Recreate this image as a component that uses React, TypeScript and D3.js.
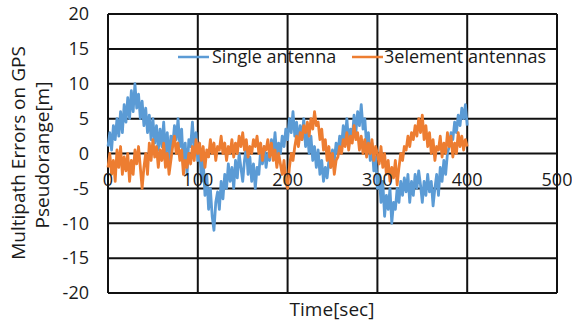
import React from "react";
import * as d3 from "d3";

// Sampling grid: one reading every 2 seconds, 0..400 s
const time = d3.range(0, 401, 2);

// Single antenna, multipath error [m]
const singleAntenna = [
  1, 3, 0.5, 4, 2, 5, 2.5, 6, 3, 7,
  4.5, 8, 5, 9, 6, 10, 6.5, 8.5, 5, 7.5,
  4, 6.5, 3, 5.5, 2, 5, 1.5, 4, 0.5, 3.5,
  1, 4.5, 0, 3, -1, 2.5, 1, 4, 2, 5,
  1, 3.5, -2, 1.5, -3, 2, 1, 4.5, 0.5, 3,
  -1, 1, -4, -1, -6, -3, -8, -5, -9, -11,
  -7, -5.5, -8, -4, -6.5, -3, -5, -1.5, -4, -2,
  -5, -1, -3.5, 0, -2, -4, -1, 1, -3, -0.5,
  -4, -1.5, -5, -2, -3, 0.5, -1.5, 1, -2, 0,
  -1, 2, 0, 3, -0.5, 1.5, 0, 2.5, 1, 3.5,
  2, 5, 3, 6, 2.5, 4.5, 1.5, 4, 2, 5,
  1, 3, 0, 2.5, -1, 1, -2, 0.5, -3, -1,
  -4, -2, -3.5, -1, -2, 0.5, -1, 1.5, 0, 2.5,
  1, 4, 2, 5, 1.5, 3.5, 2, 5.5, 3, 6,
  4, 7, 3.5, 5, 1, 3, -1, 1.5, -2.5, -0.5,
  -5, -3, -7, -4, -9, -6, -8, -5, -10, -7,
  -8, -5, -7, -4, -6, -3.5, -5.5, -3, -7, -4,
  -6, -3, -5, -2.5, -4.5, -7, -4, -6, -3, -5.5,
  -4, -7.5, -5, -3, -6, -2, -4, -1, -3, 0,
  1, 3, 2, 4.5, 3, 5.5, 4, 6.5, 5, 7,
  4,
];

// 3-element antennas, multipath error [m]
const threeElement = [
  -2, 0, -3, -1, -4, 0.5, -2, 1, -3, -0.5,
  -2.5, 0, -4, -1, -3, 0.5, -1.5, 1, -2, -5,
  -2, 0, -3, 1.5, -1, 2, -0.5, 1, -2, 0.5,
  -1, 1.5, -2, 0, -3, -1, 1, 2.5, 0, 1.5,
  -1, 0.5, -3, -1, -2, 0, -1.5, 1, -1, 2,
  0, 1.5, -1, 1, -2, 0.5, -0.5, 2, 0, 1.5,
  -1, 1, 0.5, 2.5, 0, 1.5, -1, 1, 0, 2,
  -0.5, 1.5, 0, 2.5, 1, 3, 0.5, 2, -0.5, 1,
  0, 2, 1, 2.5, 0, 1.5, -1, 1, 0.5, 2,
  -0.5, 1.5, -1, 0.5, -2, 0, -1.5, -3, -1, -4,
  -5, -2, 0, -1, 1, 2.5, 1, 3, 2, 4,
  3, 4.5, 2.5, 5, 3.5, 6, 4, 4.5, 2, 3.5,
  0.5, 2, -1, 1, -2, 0, -3, -1, -0.5, 1,
  0, 2, 1, 3, 0.5, 2.5, 1.5, 4, 2, 3,
  0.5, 2.5, 0, 2, -0.5, 1.5, 0, 2, -1, 1,
  0, -1.5, 1, -2, 0, -3, -1, -4, -2, -3.5,
  -1, -4.5, -2, 0, -1, 1, 0.5, 2.5, 1, 3,
  2, 4, 2.5, 5, 3, 5.5, 2, 4, 1, 3,
  0, 2, -1, 1, 0.5, 2.5, -0.5, 1.5, 0, 3,
  1, 2.5, -0.5, 1.5, 0, 3, 1, 2.5, 0.5, 2,
  1,
];

const xTicks = [0, 100, 200, 300, 400, 500];
const yTicks = [20, 15, 10, 5, 0, -5, -10, -15, -20];

const seriesNames = ["Single antenna", "3element antennas"];
const seriesColors = ["#5B9BD5", "#ED7D31"];

const W = 572;
const H = 322;
const FONT = "'Open Sans', 'Noto Sans', sans-serif";
const INK = "#1a1a1a";

export default function App() {
  const x = d3.scaleLinear().domain([0, 500]).range([108, 557]);
  const y = d3.scaleLinear().domain([-20, 20]).range([293, 14]);

  const line = d3
    .line<number>()
    .x((_, i) => x(time[i]))
    .y((d) => y(d));

  const series = [singleAntenna, threeElement];

  return (
    <svg
      width={W}
      height={H}
      style={{ position: "absolute", left: 0, top: 0, background: "#fff" }}
      fontFamily={FONT}
    >
      {/* grid */}
      {yTicks.map((t) => (
        <line key={"gy" + t} x1={x(0)} x2={x(500)} y1={y(t)} y2={y(t)} stroke="#111" strokeWidth={2} />
      ))}
      {xTicks.map((t) => (
        <line key={"gx" + t} x1={x(t)} x2={x(t)} y1={y(20)} y2={y(-20)} stroke="#111" strokeWidth={2} />
      ))}

      {/* data */}
      {series.map((s, i) => (
        <path
          key={seriesNames[i]}
          d={line(s) || ""}
          fill="none"
          stroke={seriesColors[i]}
          strokeWidth={2.8}
          strokeLinejoin="round"
        />
      ))}

      {/* y tick labels */}
      {yTicks.map((t) => (
        <text key={"ly" + t} x={89} y={y(t)} dy="0.35em" textAnchor="end" fontSize={18} fill={INK}>
          {t}
        </text>
      ))}

      {/* x tick labels */}
      {xTicks.map((t) => (
        <text key={"lx" + t} x={x(t)} y={180} dy="0.35em" textAnchor="middle" fontSize={18} fill={INK}>
          {t}
        </text>
      ))}

      {/* legend */}
      <line x1={178} x2={209} y1={57} y2={57} stroke={seriesColors[0]} strokeWidth={2.5} />
      <text x={212} y={57} dy="0.35em" fontSize={18} fill={INK}>
        {seriesNames[0]}
      </text>
      <line x1={352} x2={383} y1={57} y2={57} stroke={seriesColors[1]} strokeWidth={2.5} />
      <text x={384} y={57} dy="0.35em" fontSize={18} fill={INK}>
        {seriesNames[1]}
      </text>

      {/* axis titles */}
      <g transform="translate(18,153) rotate(-90)">
        <text textAnchor="middle" dy="0.35em" fontSize={19} fill={INK}>
          Multipath Errors on GPS
        </text>
      </g>
      <g transform="translate(42,155) rotate(-90)">
        <text textAnchor="middle" dy="0.35em" fontSize={19} fill={INK}>
          Pseudorange[m]
        </text>
      </g>
      <text x={332} y={309} dy="0.35em" textAnchor="middle" fontSize={19} fill={INK}>
        Time[sec]
      </text>
    </svg>
  );
}
